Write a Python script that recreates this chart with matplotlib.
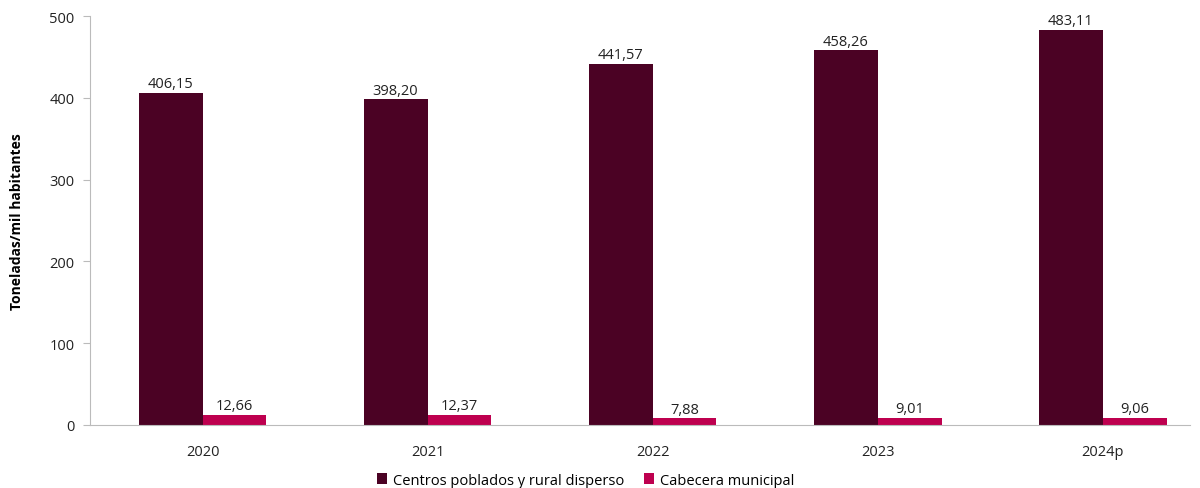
import matplotlib.pyplot as plt
import numpy as np

plt.rcParams['font.family'] = ['Open Sans', 'DejaVu Sans']

years = ["2020", "2021", "2022", "2023", "2024p"]
rural = [406.15, 398.20, 441.57, 458.26, 483.11]
cabecera = [12.66, 12.37, 7.88, 9.01, 9.06]

dark = "#4B0224"
pink = "#BE004F"

fig = plt.figure(figsize=(12, 4.89), dpi=100)
ax = fig.add_axes([0.075, 0.129, 0.917, 0.836])

x = np.arange(len(years))
w = 0.284
b1 = ax.bar(x - w / 2, rural, w, color=dark, label="Centros poblados y rural disperso")
b2 = ax.bar(x + w / 2, cabecera, w, color=pink, label="Cabecera municipal")

fmt = lambda v: f"{v:.2f}".replace(".", ",")
for bars, vals in ((b1, rural), (b2, cabecera)):
    for r, v in zip(bars, vals):
        ax.text(r.get_x() + r.get_width() / 2, v + 2, fmt(v), ha="center", va="bottom",
                fontsize=10.5, color="#222222")

ax.set_xlim(-0.5, 4.39)
ax.set_ylim(0, 500)
ax.set_yticks([0, 100, 200, 300, 400, 500])
ax.set_xticks(x)
ax.set_xticklabels(years)
ax.tick_params(axis="x", length=0, pad=14, labelsize=10.5, colors="#222222")
ax.tick_params(axis="y", length=5, color="#BBBBBB", labelsize=10.5, labelcolor="#222222", pad=6)
for s in ("top", "right"):
    ax.spines[s].set_visible(False)
ax.spines["left"].set_color("#BBBBBB")
ax.spines["bottom"].set_color("#BBBBBB")
ax.set_ylabel("Toneladas/mil habitantes", fontsize=10, fontweight="bold", labelpad=18)

fig.legend(loc="lower center", bbox_to_anchor=(0.488, -0.026), ncol=2, frameon=False,
           fontsize=10.5, handlelength=0.7, handleheight=0.7, handletextpad=0.4, columnspacing=1.4)

fig.savefig("out.png", dpi=100)
